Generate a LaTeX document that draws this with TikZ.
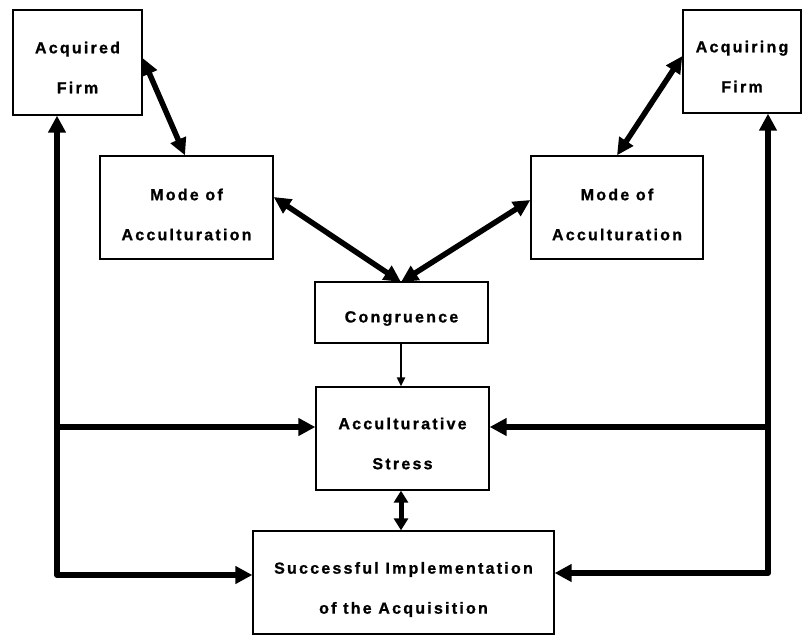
\documentclass[tikz,border=0pt]{standalone}
\usepackage{fontspec}
\setmainfont{Liberation Sans}
\newfontfamily\boxfont[LetterSpace=14,FakeBold=1]{Liberation Sans Bold}
\usetikzlibrary{arrows.meta}
\begin{document}
\begin{tikzpicture}[x=1pt,y=-1pt,
  box/.style={draw, line width=1.3pt, inner sep=0pt},
  txt/.style={font=\boxfont\fontsize{16}{40}\selectfont, align=center, inner sep=0pt},
  big/.style={line width=6pt, arrows={-Triangle[length=17pt,width=17pt]}},
  bigboth/.style={line width=5.5pt, arrows={Triangle[length=17pt,width=16pt]-Triangle[length=17pt,width=16pt]}},
  thin/.style={line width=2pt, arrows={-Triangle[length=9pt,width=8pt]}}]
\useasboundingbox (0,0) rectangle (802,635);

% boxes
\node[box, minimum width=129pt, minimum height=105pt,
  label={[txt,yshift=-5pt]center:Acquired\\Firm}] (acq) at (77.5,62.5) {};
\node[box, minimum width=118pt, minimum height=103pt,
  label={[txt,yshift=-5pt]center:Acquiring\\Firm}] (acg) at (742,61.5) {};
\node[box, minimum width=173pt, minimum height=103pt,
  label={[txt,yshift=-7pt]center:Mode of\\Acculturation}] (modeL) at (186.5,207.5) {};
\node[box, minimum width=172pt, minimum height=103pt,
  label={[txt,yshift=-7pt]center:Mode of\\Acculturation}] (modeR) at (617,207.5) {};
\node[box, minimum width=173pt, minimum height=61pt,
  label={[txt,yshift=-6pt]center:Congruence}] (cong) at (401.5,312.5) {};
\node[box, minimum width=173pt, minimum height=103pt,
  label={[txt,yshift=-5pt]center:Acculturative\\Stress}] (stress) at (402.5,438.5) {};
\node[box, minimum width=301pt, minimum height=103pt,
  label={[txt,yshift=-7pt]center:Successful Implementation\\of the Acquisition}] (succ) at (403.5,582.5) {};

% frame routes
\coordinate (lcorner) at (57,575);
\coordinate (lbranch) at (57,427);
\coordinate (rcorner) at (768,573);
\coordinate (rbranch) at (768,427);

% diagonal links
\coordinate (congtop) at (401,282);
\draw[bigboth] (acq.east |- 0,58) -- (modeL.north -| 185,0);
\draw[bigboth] (modeL.east |- 0,197) -- (congtop);
\draw[bigboth] (modeR.west |- 0,200) -- (congtop);
\draw[bigboth] (acg.west |- 0,56) -- (modeR.north -| 617,0);

% centre column
\coordinate (colx) at (401,0);
\draw[thin] (colx |- cong.south) -- (colx |- stress.north);
\draw[line width=5pt, arrows={Triangle[length=12pt,width=14pt]-Triangle[length=12pt,width=14pt]}]
  (colx |- stress.south) -- (colx |- succ.north);

% left loop
\draw[line width=6pt, line join=round,
  arrows={Triangle[length=17pt,width=17pt]-Triangle[length=17pt,width=17pt]}]
  (lcorner |- acq.south) -- (lcorner) -- (lcorner -| succ.west);
\draw[big] (lbranch) -- (lbranch -| stress.west);

% right loop
\draw[line width=6pt, line join=round,
  arrows={Triangle[length=17pt,width=17pt]-Triangle[length=17pt,width=17pt]}]
  (rcorner |- acg.south) -- (rcorner) -- (rcorner -| succ.east);
\draw[big] (rbranch) -- (rbranch -| stress.east);
\end{tikzpicture}
\end{document}
